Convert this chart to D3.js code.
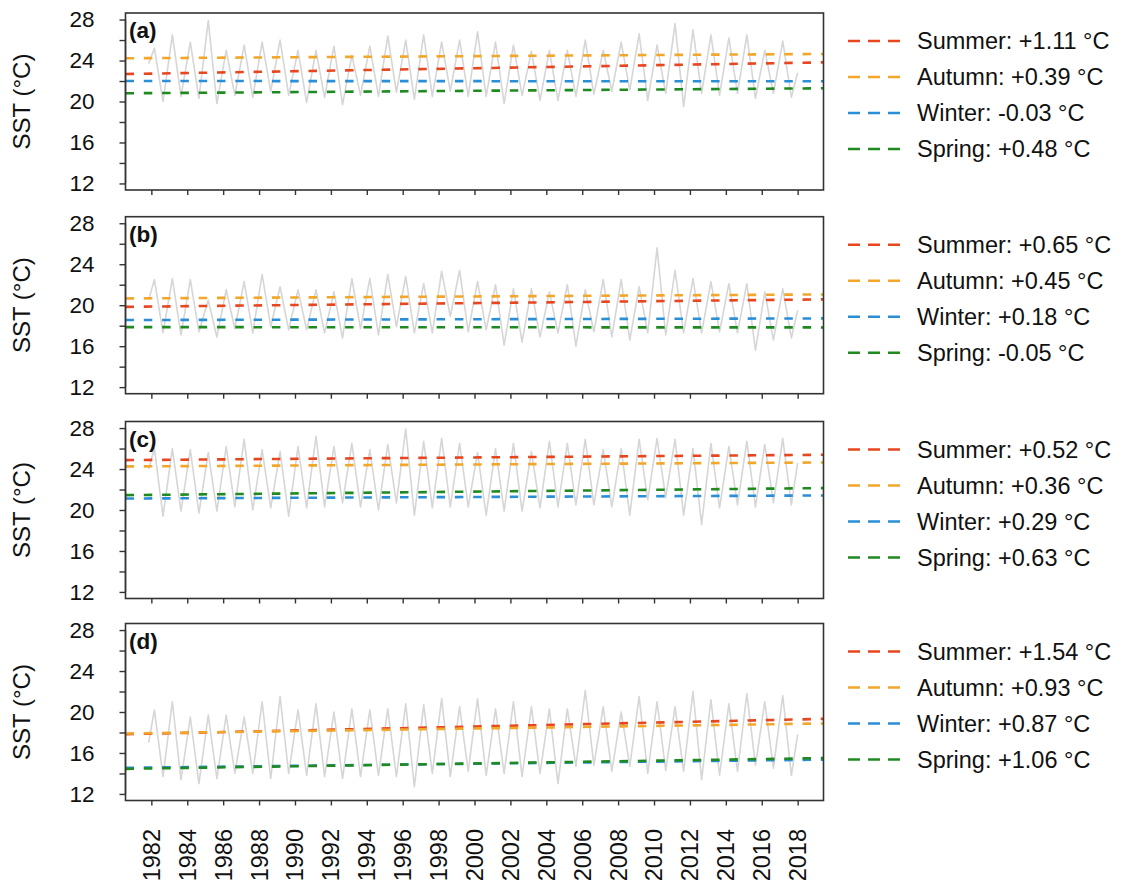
<!DOCTYPE html>
<html><head><meta charset="utf-8">
<script src="https://cdn.jsdelivr.net/npm/d3@7/dist/d3.min.js"></script>
<style>
body{margin:0;background:#fff}
text{font-family:"Liberation Sans",Arial,Helvetica,sans-serif;fill:#111}
</style>
</head><body>
<svg id="chart" width="1126" height="887"></svg>
<script>
// ---------------- data ----------------
const panelLabels = ["(a)", "(b)", "(c)", "(d)"];
const seasons = ["Summer", "Autumn", "Winter", "Spring"];
const seasonColors = ["#e8461f", "#f2a72b", "#2a8fd6", "#1f8a1f"];
const yTicks = [12, 14, 16, 18, 20, 22, 24, 26, 28];
const yTickLabels = ["12", "", "16", "", "20", "", "24", "", "28"];
const xTicks = [1982,1984,1986,1988,1990,1992,1994,1996,1998,2000,2002,2004,2006,2008,2010,2012,2014,2016,2018];
const years = d3.range(1982, 2018);

const changesA = ["+1.11", "+0.39", "-0.03", "+0.48"];
const changesB = ["+0.65", "+0.45", "+0.18", "-0.05"];
const changesC = ["+0.52", "+0.36", "+0.29", "+0.63"];
const changesD = ["+1.54", "+0.93", "+0.87", "+1.06"];

// trend line values at left (1980.56) and right (2019.44) plot edges
const trendYears = [1980.56, 2019.44];
const trendStartA = [22.68, 24.22, 22.00, 20.80];
const trendEndA   = [23.82, 24.64, 21.97, 21.29];
const trendStartB = [19.84, 20.66, 18.55, 17.86];
const trendEndB   = [20.57, 21.05, 18.71, 17.83];
const trendStartC = [24.87, 24.25, 21.12, 21.45];
const trendEndC   = [25.39, 24.64, 21.42, 22.14];
const trendStartD = [17.83, 17.90, 14.55, 14.45];
const trendEndD   = [19.33, 18.88, 15.35, 15.50];

// SST series: yearly summer peaks and winter troughs, plus first/last values
const peaksA = [25.2,26.5,25.8,27.9,25.0,25.5,25.8,26.0,25.0,25.0,25.4,24.5,25.4,26.4,26.0,26.5,25.8,26.0,26.8,25.8,25.5,24.9,25.0,25.0,26.0,25.0,25.8,26.6,25.5,27.6,27.0,26.5,26.2,26.5,25.0,25.9];
const troughsA = [20.0,20.5,20.3,19.8,20.6,20.4,21.0,20.6,19.9,20.4,19.7,20.6,20.5,20.9,20.2,20.5,21.0,20.5,20.5,19.8,20.6,20.1,20.1,20.5,20.7,21.0,21.1,20.1,20.8,19.5,20.8,20.6,20.8,20.3,20.8,20.4];
const peaksB = [22.5,22.6,22.5,20.5,21.5,22.3,23.0,21.8,21.5,21.5,21.3,22.6,22.6,23.0,22.8,22.1,23.3,23.4,22.3,22.0,21.6,21.6,21.3,22.0,21.5,22.5,22.5,21.8,25.6,23.4,22.6,22.3,22.1,22.1,21.3,21.6];
const troughsB = [17.3,17.1,17.4,16.9,17.7,17.3,17.9,17.6,17.6,17.3,16.8,17.7,17.1,17.9,17.3,17.3,18.9,17.4,17.6,16.1,16.4,16.9,17.3,16.0,17.4,16.9,16.6,17.3,17.1,17.3,17.3,17.4,17.3,15.6,16.6,16.8];
const peaksC = [26.0,26.0,25.9,25.6,26.2,26.9,25.9,25.7,26.2,27.2,26.2,26.5,25.9,26.4,27.9,26.7,27.0,26.5,25.6,26.0,26.5,25.7,26.7,26.5,26.9,25.9,26.0,26.9,27.0,26.9,26.0,26.5,26.2,26.7,26.4,27.0];
const troughsC = [19.4,19.9,19.7,19.9,20.3,20.0,20.2,19.4,20.2,20.3,20.7,20.3,20.0,20.7,19.5,20.2,20.3,20.3,19.5,19.9,19.9,20.2,20.3,20.5,20.5,20.3,19.5,21.0,21.2,19.5,18.6,20.2,20.5,20.3,20.7,20.5];
const peaksD = [20.2,21.0,19.5,19.7,19.7,19.5,21.0,21.5,20.2,20.8,20.0,20.3,20.2,20.3,20.8,20.7,21.3,20.5,21.3,20.3,21.0,20.5,20.3,20.3,22.1,20.5,20.0,21.5,21.0,20.5,22.0,21.2,20.8,21.8,21.0,21.6];
const troughsD = [13.7,13.4,13.0,13.5,14.0,14.0,13.5,14.0,13.8,13.7,13.5,13.7,13.8,13.7,12.7,14.0,13.7,14.2,13.8,14.0,13.7,14.0,13.0,14.7,14.8,14.2,14.7,14.0,14.3,14.2,13.4,13.8,14.2,14.8,14.5,13.8];
const firstValues = [23.7, 20.5, 24.0, 17.0];
const lastValues  = [22.8, 19.5, 24.6, 17.8];
const seriesStart = 1981.85, seriesEnd = 2018.0;

// ---------------- layout ----------------
const plotLeft = 125.5, plotRight = 823.5, plotH = 177;
const panelTops = [13, 216.7, 421.5, 623.5];
const svg = d3.select("#chart");

const x = d3.scaleLinear().domain([1980.56, 2019.44]).range([plotLeft, plotRight]);

const peaks = [peaksA, peaksB, peaksC, peaksD];
const troughs = [troughsA, troughsB, troughsC, troughsD];
const tStart = [trendStartA, trendStartB, trendStartC, trendStartD];
const tEnd = [trendEndA, trendEndB, trendEndC, trendEndD];
const changes = [changesA, changesB, changesC, changesD];

panelLabels.forEach((lab, p) => {
  const top = panelTops[p];
  const y = d3.scaleLinear().domain([11.36, 28.64]).range([top + plotH, top]);
  const g = svg.append("g");

  const pts = [[seriesStart, firstValues[p]]];
  years.forEach((yr, i) => {
    pts.push([yr + 0.17, peaks[p][i]]);
    pts.push([yr + 0.65, troughs[p][i]]);
  });
  pts.push([seriesEnd, lastValues[p]]);
  g.append("path").datum(pts)
    .attr("fill", "none").attr("stroke", "#d6d6d6").attr("stroke-width", 1.6)
    .attr("stroke-linejoin", "round")
    .attr("d", d3.line().x(d => x(d[0])).y(d => y(d[1])));

  seasons.forEach((s, k) => {
    g.append("line")
      .attr("x1", x(trendYears[0])).attr("x2", x(trendYears[1]))
      .attr("y1", y(tStart[p][k])).attr("y2", y(tEnd[p][k]))
      .attr("stroke", seasonColors[k]).attr("stroke-width", 2.6)
      .attr("stroke-dasharray", "8.5,9.8");
  });

  g.append("rect").attr("x", plotLeft).attr("y", top).attr("width", plotRight - plotLeft).attr("height", plotH)
    .attr("fill", "none").attr("stroke", "#333").attr("stroke-width", 1.6);

  const ya = g.append("g").attr("transform", `translate(${plotLeft},0)`)
    .call(d3.axisLeft(y).tickValues(yTicks).tickFormat((d, i) => yTickLabels[i]).tickSize(6).tickPadding(25));
  ya.select(".domain").attr("d", `M-0,${y(12)}V${y(28)}`).attr("stroke", "#333").attr("stroke-width", 1.4);
  ya.selectAll(".tick line").attr("stroke", "#333").attr("stroke-width", 1.4);
  ya.selectAll(".tick text").attr("font-size", 22.5).attr("fill", "#111")
    .attr("font-family", '"Liberation Sans",Arial,sans-serif');

  const xa = g.append("g").attr("transform", `translate(0,${top + plotH})`)
    .call(d3.axisBottom(x).tickValues(xTicks).tickSize(5).tickFormat(""));
  xa.select(".domain").remove();
  xa.selectAll(".tick line").attr("stroke", "#333").attr("stroke-width", 1.4);

  g.append("text").attr("x", 129).attr("y", top + 25)
    .attr("font-size", 22.5).attr("font-weight", "bold").text(lab);

  g.append("text").attr("transform", `translate(30,${top + plotH / 2}) rotate(-90)`)
    .attr("text-anchor", "middle").attr("font-size", 24).text("SST (°C)");

  seasons.forEach((s, k) => {
    const cy = top + 28 + k * 36;
    g.append("line").attr("x1", 848).attr("x2", 900).attr("y1", cy).attr("y2", cy)
      .attr("stroke", seasonColors[k]).attr("stroke-width", 2.4).attr("stroke-dasharray", "12,8");
    g.append("text").attr("x", 917).attr("y", cy).attr("dy", "0.36em")
      .attr("font-size", 23.5).text(`${s}: ${changes[p][k]} °C`);
  });

  if (p === panelLabels.length - 1) {
    xTicks.forEach(t => {
      g.append("text").attr("transform", `translate(${x(t)},829) rotate(-90)`)
        .attr("text-anchor", "end").attr("dy", "0.36em").attr("font-size", 23.5).text(t);
    });
  }
});
</script>
</body></html>
